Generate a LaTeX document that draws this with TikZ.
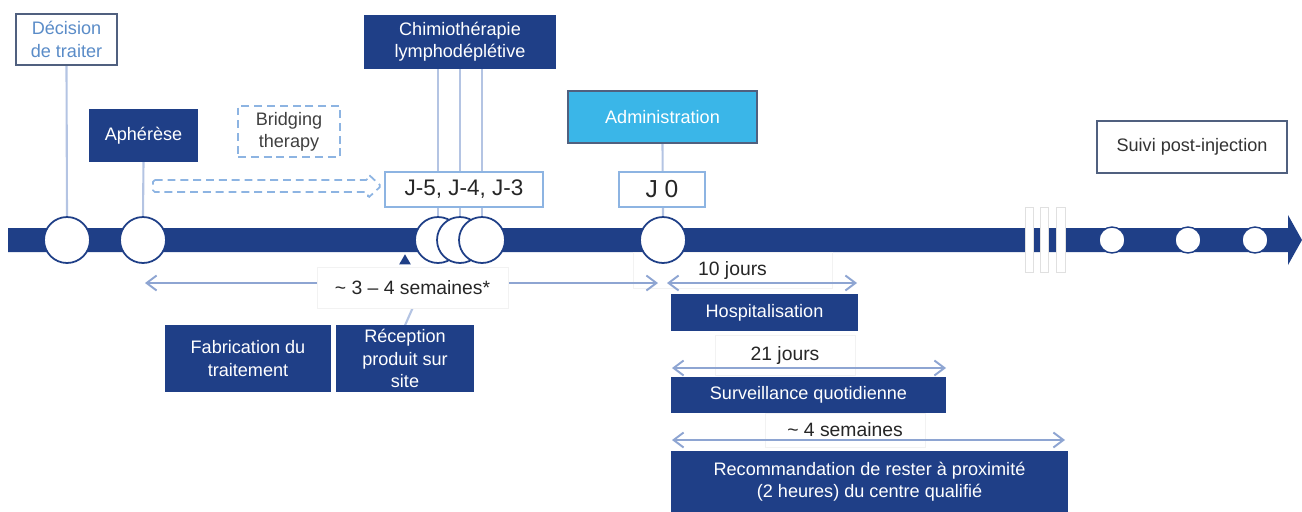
\documentclass[tikz,border=0pt]{standalone}
\usepackage{fontspec}
\setmainfont{Liberation Sans}
\usetikzlibrary{arrows.meta, positioning, calc, shapes.geometric}

\definecolor{navy}{RGB}{31,63,135}
\definecolor{admcyan}{RGB}{58,182,232}
\definecolor{vline}{RGB}{180,196,227}
\definecolor{arrline}{RGB}{142,165,210}
\definecolor{bridgeblue}{RGB}{141,180,226}
\definecolor{decblue}{RGB}{90,140,200}
\definecolor{decedge}{RGB}{80,96,127}
\definecolor{jblue}{RGB}{141,180,226}

\pgfdeclarelayer{bg}
\pgfsetlayers{bg,main}

\begin{document}
\begin{tikzpicture}[
    x=0.02cm, y=-0.02cm,
    box/.style={draw=navy, fill=navy, text=white, align=center, inner sep=1pt,
                line width=0.8pt, font=\fontsize{10.3}{12.7}\selectfont},
    wbox/.style={draw=decedge, fill=white, align=center, inner sep=1pt,
                 line width=1pt, font=\fontsize{10.3}{12.7}\selectfont},
    dbox/.style={draw=bridgeblue, dashed, dash pattern=on 4.5pt off 2.8pt, fill=white,
                 align=center, inner sep=1pt, line width=1pt, text=black!75,
                 font=\fontsize{10.3}{12.7}\selectfont},
    jbox/.style={draw=jblue, fill=white, inner sep=1pt, line width=0.9pt, text=black!85},
    lbox/.style={draw=black!5, fill=white, inner sep=1pt, text=black!85,
                 font=\fontsize{11}{13}\selectfont},
    bigc/.style={circle, draw=navy, fill=white, line width=1pt, minimum size=0.92cm, inner sep=0pt},
    smallc/.style={circle, draw=navy, fill=white, line width=0.8pt, minimum size=0.52cm, inner sep=0pt},
    vl/.style={draw=vline, line width=1.2pt},
    dur/.style={{Straight Barb[length=2mm,width=3mm]}-{Straight Barb[length=2mm,width=3mm]},
                draw=arrline, line width=1.1pt},
    brk/.style={draw=black!12, fill=white, line width=0.5pt}
  ]
    \useasboundingbox (0,0) rectangle (1302,511);
    % ---- axe du temps ----
    \begin{pgfonlayer}{bg}
      \fill[navy] (8,228) -- (1288,228) -- (1288,215) -- (1302,240) -- (1288,265)
        -- (1288,252) -- (8,252) -- cycle;
      % durées (fond)
      \node[lbox, minimum width=3.98cm, minimum height=0.72cm] (lab10)
        at (732.5,270) {10 jours};
      \node[lbox, minimum width=2.8cm, minimum height=0.8cm] (lab21)
        at (785,355) {21 jours};
      \node[lbox, minimum width=3.2cm, minimum height=0.68cm] (lab4)
        at (845,430) {\textasciitilde{} 4 semaines};
    \end{pgfonlayer}
    \foreach \a/\b in {1025/1033, 1040/1048, 1056/1065}
      \draw[brk] (\a,207) rectangle (\b,272);
    \node[bigc] (c1) at (67,240) {};
    \node[bigc] (c2) at (143,240) {};
    \node[bigc] (c3a) at (438,240) {};
    \node[bigc] (c3b) at (460,240) {};
    \node[bigc] (c3c) at (482,240) {};
    \node[bigc] (c0) at (663,240) {};
    \foreach \x/\n in {1112/p1, 1188/p2, 1255/p3}
      \node[smallc] (\n) at (\x,240) {};
    % ---- étapes au-dessus ----
    \node[wbox, text=decblue, minimum width=2.02cm, minimum height=1.02cm] (dec)
      at (66.5,39.5) {Décision\\de traiter};
    \node[box, minimum width=2.14cm, minimum height=1.02cm] (aph)
      at (143.5,135.5) {Aphérèse};
    \node[dbox, minimum width=2.04cm, minimum height=1.02cm] (bridge)
      at (289,131.5) {Bridging\\therapy};
    \node[box, minimum width=3.8cm, minimum height=1.04cm] (chimio)
      at (460,42) {Chimiothérapie\\lymphodéplétive};
    \node[wbox, fill=admcyan, text=white, minimum width=3.78cm, minimum height=1.04cm] (admin)
      at (662.5,117) {Administration};
    \node[wbox, text=black!80, minimum width=3.8cm, minimum height=1.04cm] (suivi)
      at (1192,147) {Suivi post-injection};
    % ---- liaisons ----
    \begin{pgfonlayer}{bg}
      \draw[vl] (dec.south) -- (c1.north);
      \draw[vl] (aph.south) -- (c2.north);
      \draw[vl] (chimio.south -| c3a) -- (c3a.north);
      \draw[vl] (chimio.south -| c3b) -- (c3b.north);
      \draw[vl] (chimio.south -| c3c) -- (c3c.north);
      \draw[vl] (admin.south) -- (c0.north);
    \end{pgfonlayer}
    \node[jbox, minimum width=3.16cm, minimum height=0.7cm, font=\fontsize{12.8}{15}\selectfont] (jm)
      at (464,189.5) {J-5, J-4, J-3};
    \node[jbox, minimum width=1.72cm, minimum height=0.7cm, font=\fontsize{14}{16}\selectfont] (j0)
      at (662,189.5) {J 0};
    \draw[bridgeblue, dashed, dash pattern=on 4.5pt off 2.8pt, line width=1pt, rounded corners=1pt]
      (153,180) -- (368,180) -- (368,174) -- (381,186) -- (368,198) -- (368,192)
      -- (153,192) -- cycle;
    % ---- fabrication ----
    \coordinate (a34l) at (145,283);
    \coordinate (a34r) at (658,283);
    \draw[dur] (a34l) -- (a34r);
    \node[regular polygon, regular polygon sides=3, fill=navy, inner sep=0pt,
      minimum size=0.27cm] (tri) at (405,261) {};
    \node[lbox, minimum width=3.82cm, minimum height=0.82cm] (lab34)
      at (412.5,287.5) {\textasciitilde{} 3 – 4 semaines*};
    \node[box, minimum width=3.28cm, minimum height=1.3cm] (fab)
      at (248,358.5) {Fabrication du\\traitement};
    \node[box, minimum width=2.72cm, minimum height=1.3cm] (recep)
      at (405,358.5) {Réception\\produit sur\\site};
    \begin{pgfonlayer}{bg}
      \draw[vl] (recep.north) -- (lab34.south);
    \end{pgfonlayer}
    % ---- suivi après J0 ----
    \coordinate (a10l) at (667,283);
    \coordinate (a10r) at (857,283);
    \draw[dur] (a10l) -- (a10r);
    \node[box, minimum width=3.7cm, minimum height=0.7cm] (hosp)
      at (764.5,312.5) {Hospitalisation};
    \coordinate (a21l) at (672,368);
    \coordinate (a21r) at (946,368);
    \draw[dur] (a21l) -- (a21r);
    \node[box, minimum width=5.46cm, minimum height=0.68cm] (surv)
      at (808.5,395) {Surveillance quotidienne};
    \coordinate (a4l) at (672,440);
    \coordinate (a4r) at (1065,440);
    \draw[dur] (a4l) -- (a4r);
    \node[box, minimum width=7.9cm, minimum height=1.18cm] (recom)
      at (869.5,481.5) {Recommandation de rester à proximité\\(2 heures) du centre qualifié};
  \end{tikzpicture}
\end{document}
